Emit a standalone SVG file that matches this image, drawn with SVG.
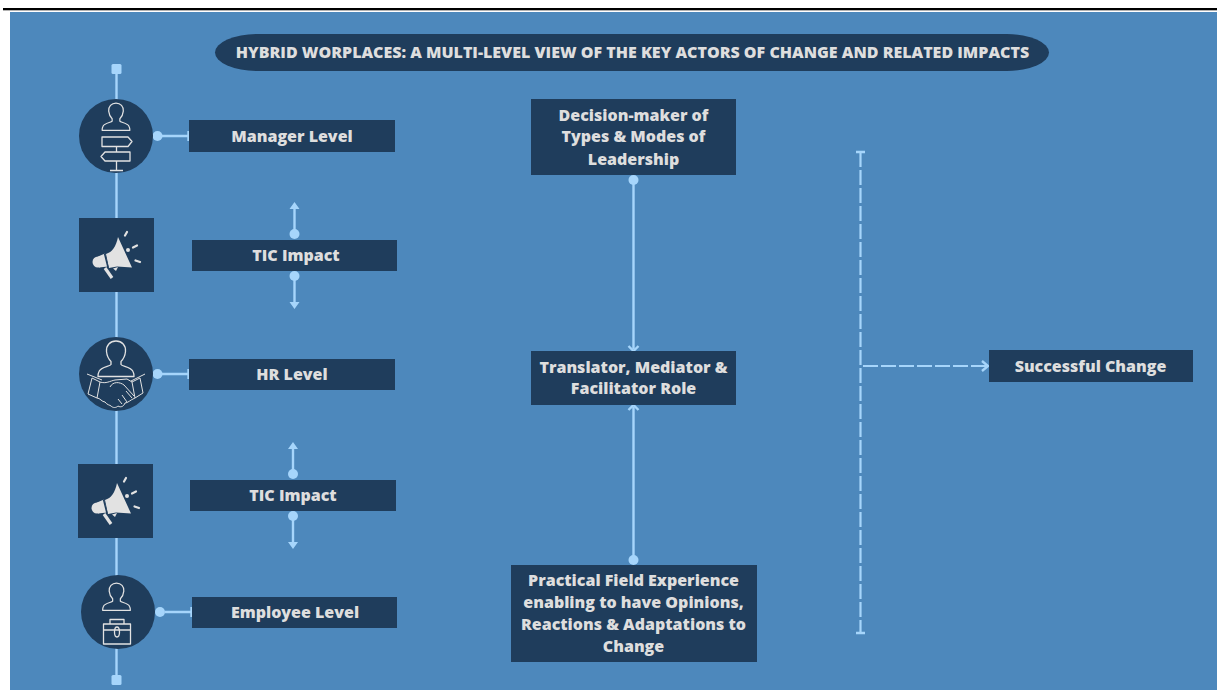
<svg xmlns="http://www.w3.org/2000/svg" width="1217" height="690" viewBox="0 0 1217 690">
<style>
.box{fill:#1f3d5c}
.t{font-family:"Open Sans","Noto Sans",sans-serif;font-weight:800;font-size:16px;fill:#dedede;text-anchor:middle}
.ln{stroke:#a6d5fb;stroke-width:2.4;fill:none}
.dot{fill:#a6d5fb}
.ic{fill:none;stroke:#e2e2e2;stroke-width:1.3;stroke-linejoin:round}
.dash{stroke:#a6d5fb;stroke-width:2.2;fill:none;stroke-dasharray:15 3}
</style>
<defs>
<path id="person" d="M0-17.500C-6-17.500-10-13-9.500-7-9-2-7 1-5 3V6C-6 8-15 8-17 13-18 15-18 18-18 18H18S18 15 17 13C15 8 6 8 5 6V3C7 1 9-2 9.500-7 10-13 6-17.500 0-17.500Z"/>
<g id="mega">
<path d="M-2-18C-4-8-8-3-14-1L-11 13-3 11.500 12 12.500Z" fill="#e2e2e2"/>
<circle cx="-22" cy="7" r="5.500" fill="#e2e2e2"/>
<path d="M-22 1.500-15-1.500-12 11.500-21 12.500Z" fill="#e2e2e2"/>
<path d="M-15 13-8 23" stroke="#e2e2e2" stroke-width="3.200" fill="none"/>
<path d="M-7 13.500-2 12-4 16Z" fill="#e2e2e2"/>
<path d="M7-23 5-19.500M17-9.500 13-7.500M20 7 15.500 5.500" stroke="#e2e2e2" stroke-width="2.200" stroke-linecap="round" fill="none"/>
<circle cx="8" cy="-5" r="2" fill="#e2e2e2"/>
<path d="M-15.500-1.500-12 12.500" stroke="#1f3d5c" stroke-width="1.400" fill="none"/>
</g>
</defs>
<rect width="1217" height="690" fill="#fff"/>
<rect x="3" y="8" width="1214" height="2.300" fill="#000"/>
<rect x="10" y="12" width="1207" height="678" fill="#4d88bc"/>

<g id="connectors">
<path class="ln" d="M116.500 70V676"/>
<rect class="dot" x="111.500" y="64" width="10" height="10" rx="1.500"/>
<rect class="dot" x="111.500" y="675" width="10" height="10" rx="1.500"/>
<path class="ln" d="M158 136H188M188.500 131V141"/>
<circle class="dot" cx="157.500" cy="136" r="5"/>
<path class="ln" d="M158 374H188M188.500 369V379"/>
<circle class="dot" cx="157.500" cy="374" r="5"/>
<path class="ln" d="M165 612H191M191.500 607V617"/>
<circle class="dot" cx="160" cy="612" r="5"/>
<g id="tic-arrows">
<path class="ln" d="M294.500 234V207M294.500 276V303"/>
<circle class="dot" cx="294.500" cy="234" r="5"/><circle class="dot" cx="294.500" cy="276" r="5"/>
<path class="dot" d="M294.500 202 299.500 209H289.500ZM294.500 309 299.500 302H289.500Z"/>
<path class="ln" d="M293 474V447M293 516V543"/>
<circle class="dot" cx="293" cy="474" r="5"/><circle class="dot" cx="293" cy="516" r="5"/>
<path class="dot" d="M293 442 298 449H288ZM293 549 298 542H288Z"/>
</g>
<path class="ln" d="M633.500 180V349M633.500 407V560"/>
<circle class="dot" cx="633.500" cy="180" r="5"/>
<circle class="dot" cx="633.500" cy="560" r="5"/>
<path class="ln" d="M628.500 346 633.500 351 638.500 346M628.500 410 633.500 405 638.500 410" stroke-width="2"/>
<path class="dash" d="M860.500 152V633"/>
<path class="ln" d="M856 152H865M856 633H865" stroke-width="2"/>
<path class="dash" d="M861 366H987" stroke-dashoffset="-2"/>
<path class="ln" d="M982 361 988 366 982 371" stroke-width="2"/>
</g>

<g id="title"><rect class="box" x="215" y="34" width="834" height="37" rx="42" ry="18.500"/>
<text class="t" x="632.500" y="58">HYBRID WORPLACES: A MULTI-LEVEL VIEW OF THE KEY ACTORS OF CHANGE AND RELATED IMPACTS</text></g>

<g id="icon-manager"><circle class="box" cx="116" cy="136" r="37"/>
<g class="ic">
<use href="#person" transform="translate(116 116.500) scale(.77)" stroke-width="1.600"/>
<path d="M102 137H128L132 141.500 128 146.500H102ZM130 152H105L101 156.500 105 161H130ZM116.500 146.500V152M116.500 161V170M110 170.500H123"/>
</g></g>

<g id="icon-tic-1"><rect class="box" x="79" y="218" width="75" height="74"/><use href="#mega" x="120" y="255"/></g>

<g id="icon-hr"><circle class="box" cx="116" cy="374" r="37"/>
<g class="ic">
<use href="#person" x="116" y="358.500"/>
<path stroke-width="1" d="M87 374 102 380M145 374 131 381M92 378 88 394 97 398 100 382ZM132 382 135 398 143 393 140 378ZM100 382C106 384 110 381 115 380L127 379 132 382M110 387C113 381 120 382 124 385L134 396M97 398C100 398 102 402 105 402 107 405 110 405 111 406 113 408 116 408 118 406 121 408 124 406 125 403 128 403 130 400 135 398M126 391 132 398M122 395 127 402M118 399 122 404"/>
</g></g>

<g id="icon-tic-2"><rect class="box" x="78" y="464" width="75" height="74"/><use href="#mega" x="119" y="501"/></g>

<g id="icon-employee"><circle class="box" cx="118" cy="612" r="37"/>
<g class="ic">
<use href="#person" transform="translate(116.500 596.500) scale(.77)" stroke-width="1.600"/>
<path d="M103.500 624H130.500V644H103.500ZM103.500 630H130.500M110 624V619.500H124V624M117 627C119 627 119.500 630 119.500 632S119 637 117 637 114.500 634 114.500 632 115 627 117 627Z"/>
</g></g>

<g id="manager"><rect class="box" x="189" y="120" width="206" height="32"/><text class="t" x="292" y="141.500">Manager Level</text></g>
<g id="tic1"><rect class="box" x="192" y="240" width="205" height="31"/><text class="t" x="296" y="260.500">TIC Impact</text></g>
<g id="hr"><rect class="box" x="189" y="359" width="206" height="31"/><text class="t" x="292" y="379.500">HR Level</text></g>
<g id="tic2"><rect class="box" x="190" y="480" width="206" height="31"/><text class="t" x="293" y="500.500">TIC Impact</text></g>
<g id="employee"><rect class="box" x="192" y="597" width="205" height="31"/><text class="t" x="295" y="617.500">Employee Level</text></g>

<g id="decision"><rect class="box" x="531" y="99" width="205" height="76"/>
<text class="t" x="633.500" y="121">Decision-maker of</text><text class="t" x="633.500" y="142">Types &amp; Modes of</text><text class="t" x="633.500" y="165">Leadership</text></g>
<g id="translator"><rect class="box" x="531" y="351" width="205" height="54"/>
<text class="t" x="633.500" y="373">Translator, Mediator &amp;</text><text class="t" x="633.500" y="394">Facilitator Role</text></g>
<g id="practical"><rect class="box" x="511" y="565" width="246" height="97"/>
<text class="t" x="633.500" y="586">Practical Field Experience</text><text class="t" x="633.500" y="608">enabling to have Opinions,</text><text class="t" x="633.500" y="630">Reactions &amp; Adaptations to</text><text class="t" x="633.500" y="652">Change</text></g>
<g id="success"><rect class="box" x="989" y="350" width="204" height="32"/><text class="t" x="1090.500" y="371.500">Successful Change</text></g>
</svg>
